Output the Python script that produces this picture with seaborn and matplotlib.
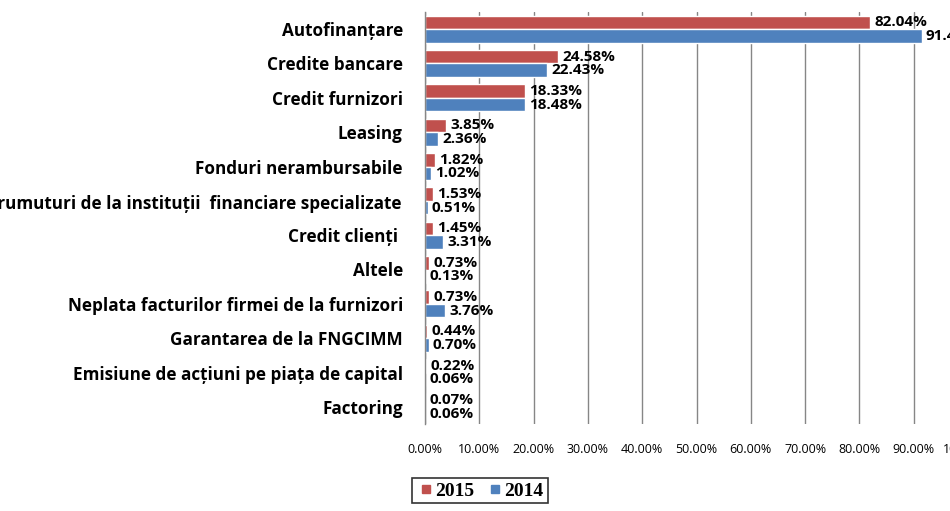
import pandas as pd
import matplotlib.pyplot as plt
import seaborn as sns
from matplotlib.lines import Line2D

# Surse de finantare, 2015 vs 2014 (%)
categories = [
    "Autofinanțare",
    "Credite bancare",
    "Credit furnizori",
    "Leasing",
    "Fonduri nerambursabile",
    "Împrumuturi de la instituții  financiare specializate",
    "Credit clienți ",
    "Altele",
    "Neplata facturilor firmei de la furnizori",
    "Garantarea de la FNGCIMM",
    "Emisiune de acțiuni pe piața de capital",
    "Factoring",
]
values_2015 = [82.04, 24.58, 18.33, 3.85, 1.82, 1.53, 1.45, 0.73, 0.73, 0.44, 0.22, 0.07]
values_2014 = [91.47, 22.43, 18.48, 2.36, 1.02, 0.51, 3.31, 0.13, 3.76, 0.70, 0.06, 0.06]
years = ["2015", "2014"]
x_ticks = [0, 10, 20, 30, 40, 50, 60, 70, 80, 90, 100]

colors = {"2015": "#C0504D", "2014": "#4F81BD"}

df = pd.DataFrame({
    "categorie": categories * 2,
    "valoare": values_2015 + values_2014,
    "an": ["2015"] * len(categories) + ["2014"] * len(categories),
})

sns.set_theme(style="white")
plt.rcParams["font.family"] = ["Open Sans", "DejaVu Sans"]
plt.rcParams["text.color"] = "black"
plt.rcParams["xtick.color"] = "black"
plt.rcParams["ytick.color"] = "black"

fig = plt.figure(figsize=(9.5, 5.11), dpi=100)
ax = fig.add_axes([425 / 950, 87 / 511, 543 / 950, 412 / 511])

sns.barplot(data=df, x="valoare", y="categorie", hue="an", hue_order=years,
            palette=colors, width=0.78, ax=ax, legend=False, saturation=1)

for cont, vals in zip(ax.containers, [values_2015, values_2014]):
    ax.bar_label(cont, labels=[f"{v:.2f}%" for v in vals], padding=3,
                 fontsize=11, fontweight="bold", color="black")

ax.set_xlim(0, 100)
ax.set_xticks(x_ticks)
ax.set_xticklabels([f"{t:.2f}%" for t in x_ticks], fontsize=9)
ax.set_xlabel("")
ax.set_ylabel("")
ax.tick_params(axis="x", length=0, pad=14, colors="black")
ax.tick_params(axis="y", length=0, pad=16, colors="black")
for lab in ax.get_yticklabels():
    lab.set_fontsize(12.3)
    lab.set_fontweight("bold")

ax.grid(axis="x", color="#868686", linewidth=1)
ax.set_axisbelow(True)
for s in ["top", "right", "bottom"]:
    ax.spines[s].set_visible(False)
ax.spines["left"].set_color("#868686")
ax.spines["left"].set_linewidth(1)

handles = [Line2D([], [], marker="s", linestyle="none", markersize=5.5,
                  markerfacecolor=colors[y], markeredgecolor=colors[y]) for y in years]
leg = fig.legend(handles, years, loc="upper left",
                 bbox_to_anchor=(412 / 950, 1 - 478 / 511), ncol=2,
                 prop={"family": "Liberation Serif", "weight": "bold", "size": 14},
                 frameon=True, fancybox=False, edgecolor="black",
                 handlelength=1.05, handletextpad=-0.05,
                 columnspacing=0.55, borderpad=0.2, borderaxespad=0)
leg.get_frame().set_linewidth(1.2)

fig.savefig("out.png", dpi=100)
